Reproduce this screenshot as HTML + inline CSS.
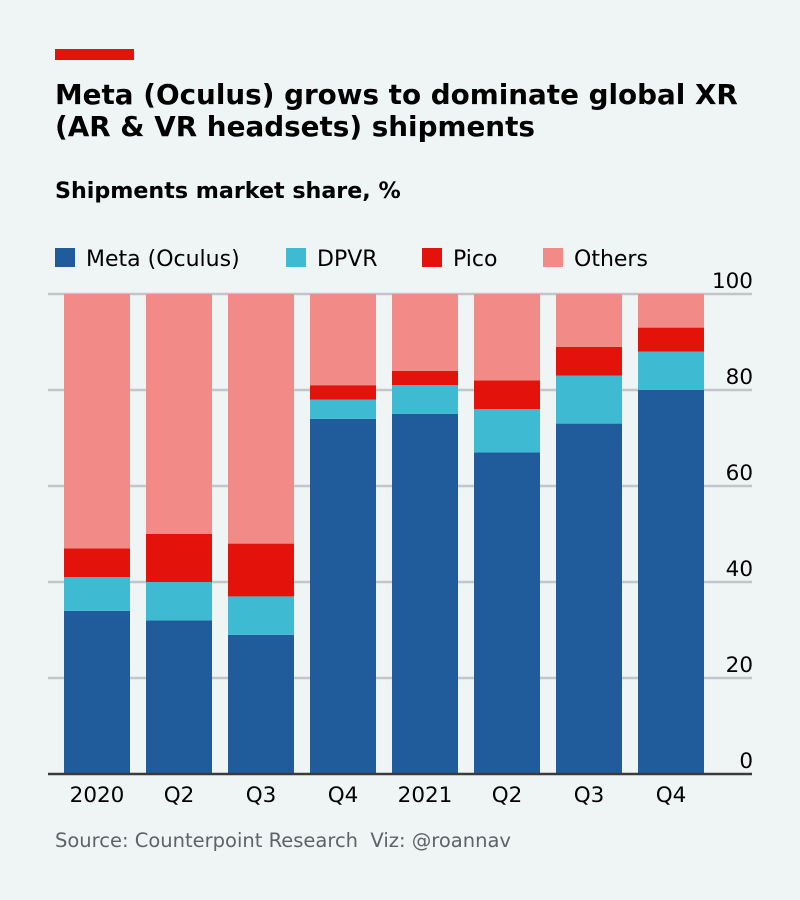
<!DOCTYPE html>
<html><head><meta charset="utf-8"><style>
body{margin:0;background:#eff4f4;font-family:"Liberation Sans","DejaVu Sans",sans-serif;}
.wrap{position:relative;width:800px;height:900px;overflow:hidden;}
</style></head><body>
<div class="wrap">
<svg width="800" height="900" xmlns="http://www.w3.org/2000/svg" id="svg">
<rect x="55" y="49" width="79" height="11" fill="#e3120b"/>
<text x="55" y="104" font-size="27.8" font-weight="bold" font-family="DejaVu Sans, sans-serif" fill="#000">Meta (Oculus) grows to dominate global XR</text>
<text x="55" y="136" font-size="27.8" font-weight="bold" font-family="DejaVu Sans, sans-serif" fill="#000">(AR &amp; VR headsets) shipments</text>
<text x="55" y="198" font-size="22.2" font-weight="bold" font-family="DejaVu Sans, sans-serif" fill="#000">Shipments market share, %</text>
<g id="legend" font-size="22" font-family="DejaVu Sans, sans-serif"></g>
<g id="grid"></g>
<g id="bars"></g>
<g id="axis" font-size="21.5" font-family="DejaVu Sans, sans-serif"></g>
<text x="55" y="847" font-size="19.5" font-family="DejaVu Sans, sans-serif" fill="#5f6368" style="white-space:pre" xml:space="preserve">Source: Counterpoint Research  Viz: @roannav</text>
</svg>
</div>
<script>
const categories=["2020","Q2","Q3","Q4","2021","Q2","Q3","Q4"];
const meta=[34,32,29,74,75,67,73,80];
const dpvr=[7,8,8,4,6,9,10,8];
const pico=[6,10,11,3,3,6,6,5];
const others=[53,50,52,19,16,18,11,7];
const yTicks=[0,20,40,60,80,100];
const seriesNames=["Meta (Oculus)","DPVR","Pico","Others"];
const colors=["#205c9b","#3ebbd3","#e3120b","#f28a87"];
const NS="http://www.w3.org/2000/svg";
const y=v=>774-v*4.8;
const x=i=>64+i*82;
function mk(tag,attrs,parent){const e=document.createElementNS(NS,tag);for(const k in attrs)e.setAttribute(k,attrs[k]);parent.appendChild(e);return e;}
const grid=document.getElementById('grid'),bars=document.getElementById('bars'),axis=document.getElementById('axis'),legend=document.getElementById('legend');
yTicks.forEach(t=>{
  if(t>0){const l=mk('line',{x1:48,x2:752,y1:y(t),y2:y(t),stroke:'#c2c6c9','stroke-width':2.5},grid);
  
  }
  const tx=mk('text',{x:753,y:y(t)-6,'text-anchor':'end',fill:'#000'},axis);tx.textContent=t;
  
  
});
const series=[meta,dpvr,pico,others];
const keys=['meta','dpvr','pico','others'];
categories.forEach((c,i)=>{
  let acc=0;
  series.forEach((s,k)=>{
    const r=mk('rect',{x:x(i),width:66,y:y(acc+s[i]),height:s[i]*4.8,fill:colors[k]},bars);
    
    
    acc+=s[i];
  });
  const tx=mk('text',{x:x(i)+33,y:802,'text-anchor':'middle',fill:'#000'},axis);tx.textContent=c;
  
  
});
const base=mk('line',{x1:48,x2:752,y1:774,y2:774,stroke:'#3a3a3a','stroke-width':2.5},axis);


const lx=[55,286,422,543];
seriesNames.forEach((n,k)=>{
  const r=mk('rect',{x:lx[k],y:248,width:20,height:19,fill:colors[k]},legend);
  
  
  const t=mk('text',{x:lx[k]+31,y:266,fill:'#000'},legend);t.textContent=n;
  
  
});
</script>
</body></html>
